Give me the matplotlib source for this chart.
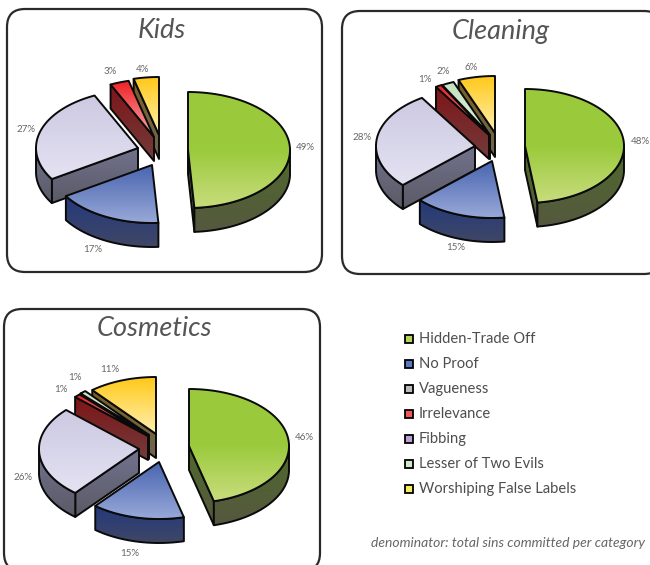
import matplotlib
matplotlib.use("Agg")
import matplotlib.pyplot as plt
import numpy as np
from matplotlib.colors import LinearSegmentedColormap
from matplotlib.patches import FancyBboxPatch, Polygon, Rectangle

plt.rcParams['font.family'] = ['Lato', 'DejaVu Sans']

categories = ["Hidden-Trade Off", "No Proof", "Vagueness", "Irrelevance",
              "Fibbing", "Lesser of Two Evils", "Worshiping False Labels"]
kids = [49, 17, 0, 3, 27, 0, 4]
cleaning = [48, 15, 0, 1, 28, 2, 6]
cosmetics = [46, 15, 0, 1, 26, 1, 11]
footnote = "denominator: total sins committed per category"

# clockwise from 12 o'clock, as in the pies
pie_order = [0, 1, 2, 4, 3, 5, 6]
# back slices get painted first
paint_order = [6, 5, 3, 4, 2, 1, 0]

legend_colors = ['#b5d45a', '#5a78c0', '#bbbbbb', '#f0565a', '#b8a0d0', '#d2e8c8', '#f6ec60']
top_colors = {0: ['#9aca3c', '#9aca3c', '#c8dc7c'], 1: ['#4a66b0', '#98a8d8'], 2: ['#bbbbbb', '#dddddd'],
              3: ['#ee2024', '#f9a8a8'], 4: ['#ccc9e2', '#e4e2f2'], 5: ['#c5e4c0', '#e0f0d8'],
              6: ['#ffc91a', '#fff0b0']}
side_colors = {0: ['#4f6a2b', '#55583f'], 1: ['#24397c', '#3f4766'], 2: ['#666666', '#555555'],
               3: ['#7e1518', '#733b3a'], 4: ['#72728e', '#5a5a66'], 5: ['#506050', '#444444'],
               6: ['#7a5f25', '#6e6650']}

# layout: ellipse radii, and where each exploded slice has its tip (pixels)
DEPTH = 24
panels = [
    dict(title="Kids", vals=kids, box=(7, 9, 315, 263), tx=162, ty=30, a=102, b=58,
         tips={0: (188, 150), 1: (152, 165), 4: (138, 148), 3: (154, 137), 6: (159, 135)},
         labels={0: (305, 147), 1: (93, 250), 4: (26, 129), 3: (110, 72), 6: (143, 69)}),
    dict(title="Cleaning", vals=cleaning, box=(342, 11, 320, 263), tx=501, ty=31, a=99, b=57,
         tips={0: (525, 146), 1: (492, 161), 4: (475, 146), 3: (489, 135), 5: (490, 135), 6: (495, 133)},
         labels={0: (640, 141), 1: (456, 248), 4: (362, 138), 3: (425, 79), 5: (443, 71), 6: (471, 67)}),
    dict(title="Cosmetics", vals=cosmetics, box=(4, 309, 316, 262), tx=154, ty=329, a=100, b=57,
         tips={0: (189, 446), 1: (159, 462), 4: (139, 449), 3: (148, 436), 5: (149, 435), 6: (156, 434)},
         labels={0: (304, 438), 1: (130, 553), 4: (23, 477), 3: (61, 390), 5: (75, 378), 6: (110, 370)}),
]

fig = plt.figure(figsize=(6.5, 5.65), dpi=100)
ax = fig.add_axes([0, 0, 1, 1])
ax.set_xlim(0, 650)
ax.set_ylim(565, 0)
ax.axis('off')
ax.autoscale(False)

z = 1


def shaded(pts, colors):
    # polygon filled with a vertical gradient, black outline on top
    global z
    pts = np.array(pts)
    cmap = LinearSegmentedColormap.from_list('g', colors)
    im = ax.imshow(np.linspace(0, 1, 64).reshape(-1, 1), cmap=cmap, aspect='auto', interpolation='bilinear',
                   extent=(pts[:, 0].min(), pts[:, 0].max(), pts[:, 1].max(), pts[:, 1].min()), zorder=z)
    edge = Polygon(pts, closed=True, fc='none', ec='#0a0a0a', lw=1.4, joinstyle='round', zorder=z + 0.5)
    ax.add_patch(edge)
    im.set_clip_path(edge)
    z += 1


def sweep(pts, colors):
    # the parts of a path that move left on screen face the viewer
    pts = np.array(pts)
    facing = np.diff(pts[:, 0]) < -1e-6
    i = 0
    while i < len(facing):
        if facing[i]:
            j = i
            while j + 1 < len(facing) and facing[j + 1]:
                j += 1
            run = pts[i:j + 2]
            low = run[::-1] + [0, DEPTH]
            shaded(np.vstack([run, low]), colors)
            i = j + 1
        else:
            i += 1


for p in panels:
    x, y, w, h = p['box']
    ax.add_patch(FancyBboxPatch((x + 18, y + 18), w - 36, h - 36, boxstyle="round,pad=18,rounding_size=18",
                                fc='white', ec='#2a2a2a', lw=1.6, zorder=0, clip_on=True))
    ax.text(p['tx'], p['ty'], p['title'], fontsize=19.5, style='italic', color='#555555',
            ha='center', va='center', zorder=50)

    # slice angles come from the percentages
    start = {}
    run = 0
    for k in pie_order:
        start[k] = run
        run += p['vals'][k]
    for k in paint_order:
        v = p['vals'][k]
        if v == 0:
            continue
        t0 = start[k] / 100 * 2 * np.pi
        t1 = (start[k] + v) / 100 * 2 * np.pi
        th = np.linspace(t0, t1, max(int(v * 3), 4))
        tx, ty = p['tips'][k]
        arc = np.column_stack([tx + p['a'] * np.sin(th), ty - p['b'] * np.cos(th)])
        tip = np.array([[tx, ty]])
        sweep(np.vstack([tip, arc[:1]]), side_colors[k])
        sweep(np.vstack([arc[-1:], tip]), side_colors[k])
        sweep(arc, side_colors[k])
        shaded(np.vstack([tip, arc]), top_colors[k])
        lx, ly = p['labels'][k]
        ax.text(lx, ly, f"{v}%", fontsize=7, color='#666666', ha='center', va='center', zorder=50)

# legend
for i, name in enumerate(categories):
    yy = 339 + 25 * i
    ax.add_patch(Rectangle((405, yy - 4), 8, 8, fc=legend_colors[i], ec='black', lw=1.3, zorder=50))
    ax.text(419, yy, name, fontsize=10.6, color='#4d4d4d', va='center', ha='left', zorder=50)

ax.text(645, 543, footnote, fontsize=10, style='italic', color='#666666', va='center', ha='right', zorder=50)

fig.savefig("out.png", dpi=100)
